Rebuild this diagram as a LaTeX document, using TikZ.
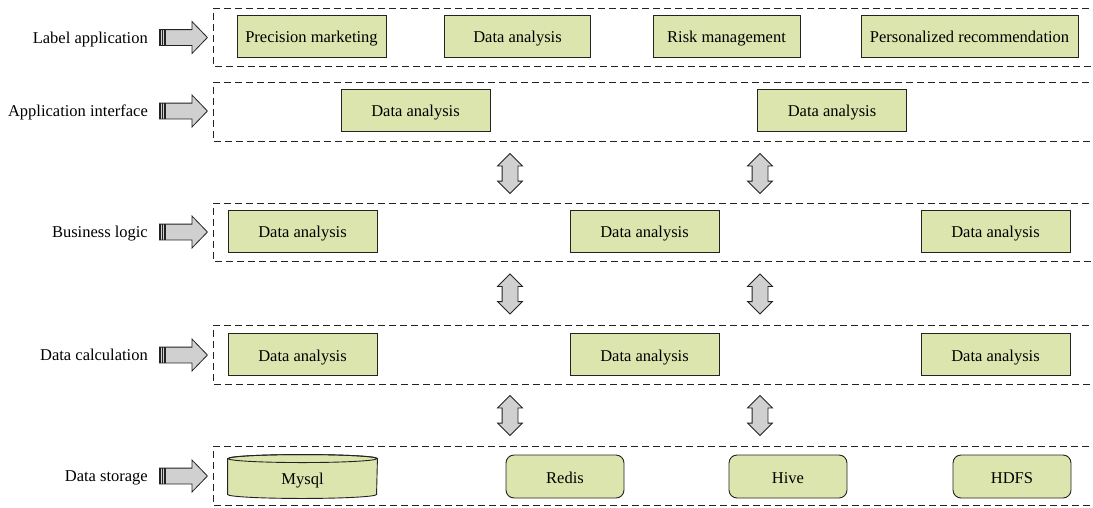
\documentclass[tikz,border=0pt]{standalone}
\usepackage{fontspec}
\setmainfont{Liberation Serif}
\usetikzlibrary{shapes.arrows,calc}
\definecolor{boxgreen}{RGB}{219,229,173}
\definecolor{arrowgray}{RGB}{208,208,208}
\definecolor{edge}{RGB}{35,35,35}
\tikzset{
  txt/.style={font=\fontsize{16.5}{19}\selectfont},
  layer/.style={draw=edge, dashed, dash pattern=on 7pt off 4pt, line width=1pt},
  greenbox/.style={txt, draw=edge, fill=boxgreen, line width=0.9pt,
    minimum width=149pt, minimum height=42pt, inner sep=0pt,
    text height=13.5pt, text depth=0pt},
  roundbox/.style={greenbox, rounded corners=8pt, minimum width=118pt, minimum height=43pt},
  layername/.style={txt, anchor=east, inner sep=0pt, text height=11pt, text depth=0pt},
  feed/.style={single arrow, draw=edge, fill=arrowgray, line width=0.8pt,
    minimum height=48pt, inner xsep=0pt, inner ysep=7.5pt,
    single arrow head extend=8pt, single arrow tip angle=92, anchor=west,
    path picture={
      \foreach \dx in {1.2,3.4,5.6}
        \draw[edge, line width=1.1pt]
          ([xshift=\dx pt]path picture bounding box.south west) --
          ([xshift=\dx pt]path picture bounding box.north west);}},
  link/.style={double arrow, draw=edge, fill=arrowgray, line width=0.8pt,
    minimum height=40pt, inner xsep=0pt, inner ysep=7.5pt,
    double arrow head extend=4.5pt, double arrow tip angle=90, rotate=90}
}
\begin{document}
\begin{tikzpicture}[x=1pt, y=-1pt]
\useasboundingbox (0,0) rectangle (1093,507);

% layer frames (open to the right)
\begin{scope}
  \clip (0,0) rectangle (1093,507);
  \foreach \t/\b in {8/66, 82/141, 203/261, 325/384, 446/505}
    \draw[layer] (1100,\t) -- (213.5,\t) -- (213.5,\b) -- (1100,\b);
\end{scope}

% layer names and feed arrows
\foreach \n/\y/\lab in {la/37.5/Label application, ai/111/Application interface,
    bl/232/Business logic, dc/355/Data calculation, ds/476/Data storage}{
  \node[layername] (name-\n) at (148,\y) {\lab};
  \node[feed] (feed-\n) at (159,\y) {};
}

% label application
\node[greenbox] (pm) at (311.5,36) {Precision marketing};
\node[greenbox, minimum width=146pt] (da1) at (517.5,36) {Data analysis};
\node[greenbox, minimum width=147pt] (rm) at (726.5,36) {Risk management};
\node[greenbox, minimum width=217pt] (pr) at (969.5,36) {Personalized recommendation};

% application interface
\node[greenbox] (ai1) at (415.5,110) {Data analysis};
\node[greenbox] (ai2) at (832,110) {Data analysis};

% business logic
\node[greenbox] (bl1) at (302.5,231) {Data analysis};
\node[greenbox] (bl2) at (644.5,231) {Data analysis};
\node[greenbox] (bl3) at (995.5,231) {Data analysis};

% data calculation
\node[greenbox] (dc1) at (302.5,354.5) {Data analysis};
\node[greenbox] (dc2) at (644.5,354.5) {Data analysis};
\node[greenbox] (dc3) at (995.5,354.5) {Data analysis};

% data storage
\node[greenbox, draw=none, fill=none, minimum height=43pt] (mysql) at (302.5,476.5) {};
\filldraw[draw=edge, fill=boxgreen, line width=0.9pt]
  ($(mysql.north west)+(0,4)$) -- ($(mysql.south west)+(0,-4)$)
  arc[start angle=180, end angle=360, x radius=74.5pt, y radius=4pt]
  -- ($(mysql.north east)+(0,4)$)
  arc[start angle=0, end angle=180, x radius=74.5pt, y radius=4pt] -- cycle;
\draw[edge, line width=0.9pt] ($(mysql.north)+(0,4)$) ellipse[x radius=74.5pt, y radius=4pt];
\node[txt, text height=13.5pt, text depth=0pt, inner sep=0pt] at ($(mysql)+(0,1.5)$) {Mysql};
\node[roundbox] (redis) at (565,476.5) {Redis};
\node[roundbox] (hive) at (788,476.5) {Hive};
\node[roundbox] (hdfs) at (1012,476.5) {HDFS};

% links between layers
\foreach \x in {510,760}
  \foreach \y in {173.5,294,415.5}
    \node[link] at (\x,\y) {};
\end{tikzpicture}
\end{document}
